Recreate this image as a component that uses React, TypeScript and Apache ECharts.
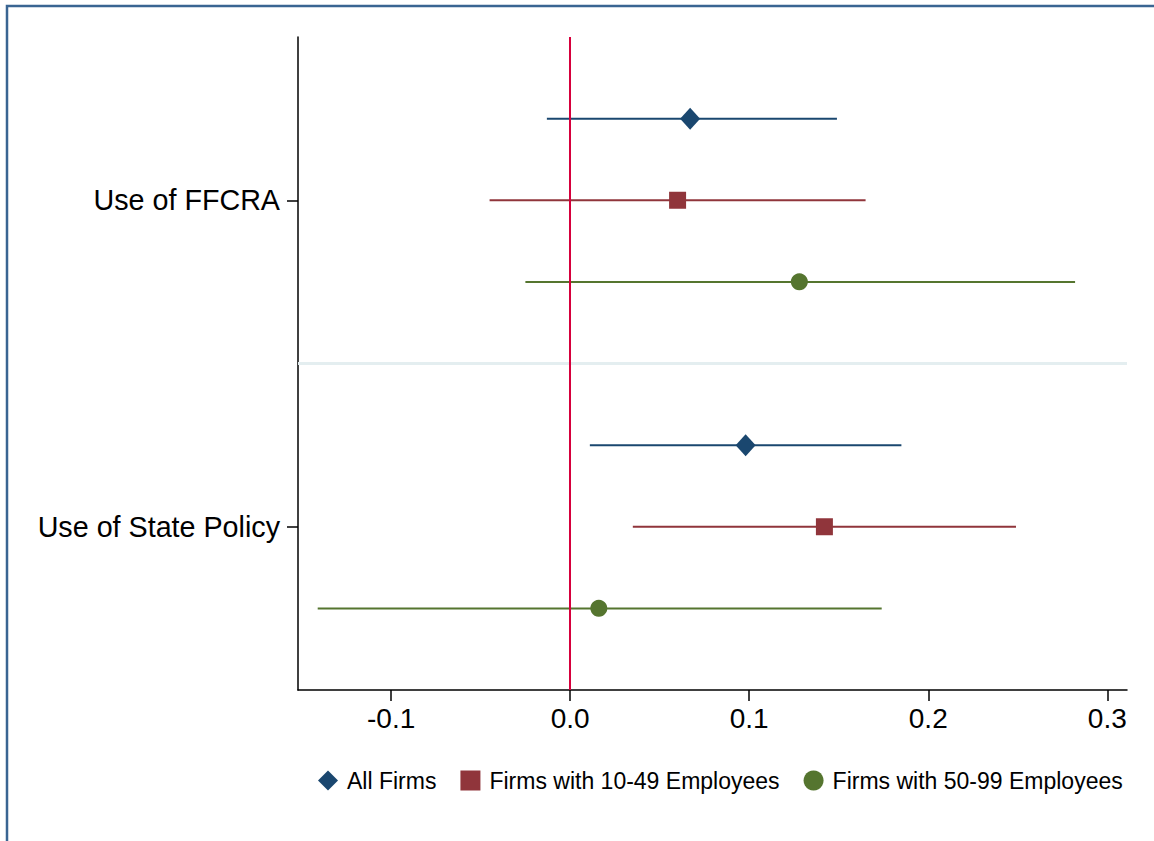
import React, { useEffect, useRef } from "react";
import * as echarts from "echarts";

const groups = ["Use of FFCRA", "Use of State Policy"];
const seriesNames = ["All Firms", "Firms with 10-49 Employees", "Firms with 50-99 Employees"];
const xTicks = [-0.1, 0.0, 0.1, 0.2, 0.3];

// point estimates and confidence bounds, per group [FFCRA, State Policy]
const allFirmsEst = [0.067, 0.098];
const allFirmsLo = [-0.013, 0.011];
const allFirmsHi = [0.149, 0.185];

const small1049Est = [0.06, 0.142];
const small1049Lo = [-0.045, 0.035];
const small1049Hi = [0.165, 0.249];

const mid5099Est = [0.128, 0.016];
const mid5099Lo = [-0.025, -0.141];
const mid5099Hi = [0.282, 0.174];

const colors = ["#1a476f", "#90353b", "#55752f"];
const symbols = ["diamond", "rect", "circle"];
const symbolSizes = [[20, 22], 17, 17];

const groupCenters = [6, 2];
const rowOffsets = [1, 0, -1];

const FONT = "'Liberation Sans', Arial, Helvetica, sans-serif";

export default function App() {
  const ref = useRef<HTMLDivElement>(null);
  useEffect(() => {
    if (!ref.current) return;
    const chart = echarts.init(ref.current, null, { renderer: "svg" });
    const est = [allFirmsEst, small1049Est, mid5099Est];
    const lo = [allFirmsLo, small1049Lo, mid5099Lo];
    const hi = [allFirmsHi, small1049Hi, mid5099Hi];

    const series: any[] = [];
    seriesNames.forEach((name, s) => {
      const ciData = groups.map((_, g) => [lo[s][g], hi[s][g], groupCenters[g] + rowOffsets[s]]);
      series.push({
        type: "custom",
        name: name + " CI",
        z: 2,
        silent: true,
        data: ciData,
        encode: { x: [0, 1], y: 2 },
        renderItem: (params: any, api: any) => {
          const p1 = api.coord([api.value(0), api.value(2)]);
          const p2 = api.coord([api.value(1), api.value(2)]);
          return {
            type: "line",
            shape: { x1: p1[0], y1: p1[1], x2: p2[0], y2: p2[1] },
            style: { stroke: colors[s], lineWidth: 2 },
          };
        },
      });
    });
    seriesNames.forEach((name, s) => {
      series.push({
        type: "scatter",
        name,
        z: 5,
        symbol: symbols[s],
        symbolSize: symbolSizes[s],
        itemStyle: { color: colors[s], opacity: 1 },
        data: groups.map((_, g) => [est[s][g], groupCenters[g] + rowOffsets[s]]),
      });
    });
    series.push({
      type: "scatter",
      name: "refs",
      z: 3,
      data: [],
      markLine: {
        silent: true,
        symbol: "none",
        label: { show: false },
        animation: false,
        data: [
          { yAxis: 4, lineStyle: { color: "#e4eef0", width: 3, type: "solid" } },
          { xAxis: 0, lineStyle: { color: "#d6003c", width: 2, type: "solid" } },
        ],
      },
    });

    chart.setOption({
      animation: false,
      backgroundColor: "#ffffff",
      textStyle: { fontFamily: FONT },
      graphic: [
        {
          type: "rect",
          shape: { x: 7, y: 6, width: 1170, height: 860 },
          style: { fill: "none", stroke: "#3a6592", lineWidth: 2.5 },
          z: 100,
        },
      ],
      grid: { left: 298, right: 27, top: 37, bottom: 151, containLabel: false },
      xAxis: {
        type: "value",
        min: -0.152,
        max: 0.311,
        axisLine: { show: true, onZero: false, lineStyle: { color: "#000", width: 1.5 } },
        axisTick: { show: true, length: 11, customValues: xTicks, lineStyle: { color: "#000", width: 1.5 } },
        axisLabel: {
          customValues: xTicks,
          formatter: (v: number) => v.toFixed(1),
          fontSize: 28,
          color: "#000",
          margin: 14,
          fontFamily: FONT,
        },
        splitLine: { show: false },
      },
      yAxis: {
        type: "value",
        min: 0,
        max: 8,
        axisLine: { show: true, onZero: false, lineStyle: { color: "#000", width: 1.5 } },
        axisTick: { show: true, length: 11, customValues: groupCenters, lineStyle: { color: "#000", width: 1.5 } },
        axisLabel: {
          customValues: groupCenters,
          formatter: (v: number) => {
            const i = groupCenters.indexOf(v);
            return i >= 0 ? groups[i] : "";
          },
          fontSize: 28.7,
          color: "#000",
          margin: 18,
          fontFamily: FONT,
        },
        splitLine: { show: false },
      },
      legend: {
        data: seriesNames.map((n, i) => ({ name: n, icon: symbols[i] })),
        left: 313,
        top: 764,
        itemWidth: 20,
        itemHeight: 20,
        itemGap: 24,
        textStyle: { fontSize: 23, color: "#000", fontFamily: FONT, padding: [0, 0, 0, 4] },
        selectedMode: false,
      },
      series,
    });
    return () => chart.dispose();
  }, []);
  return (
    <div
      ref={ref}
      style={{ position: "fixed", left: 0, top: 0, width: 1154, height: 841, background: "#fff" }}
    />
  );
}
